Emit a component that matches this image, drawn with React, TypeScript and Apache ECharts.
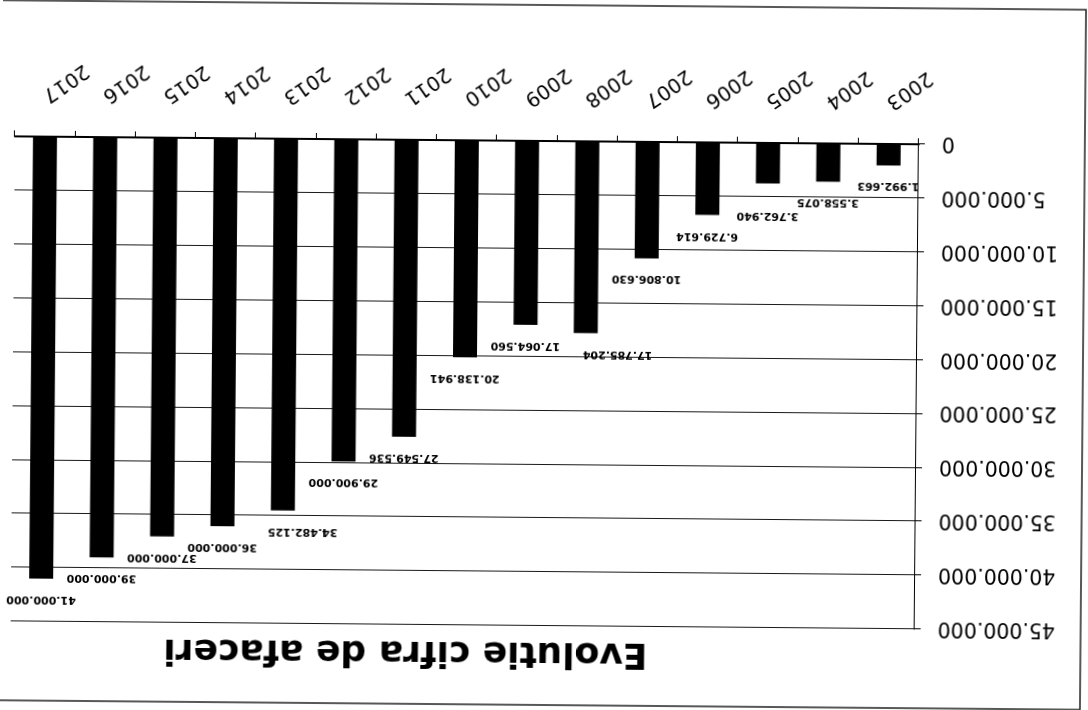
import React, { useEffect, useRef } from "react";
import * as echarts from "echarts";

const years = [
  "2003", "2004", "2005", "2006", "2007", "2008", "2009", "2010",
  "2011", "2012", "2013", "2014", "2015", "2016", "2017",
];

const revenue = [
  1992663, 3558075, 3762940, 6729614, 10806630, 17785204, 17064560, 20138941,
  27549536, 29900000, 34482125, 36000000, 37000000, 39000000, 41000000,
];

const axisMin = 0;
const axisMax = 45000000;
const axisStep = 5000000;

const titleText = "Evolutie cifra de afaceri";

// manual label nudges seen in the original (in px)
const labelNudges: Record<string, number[]> = {
  "2005": [0, -11],
  "2008": [-32, 0],
  "2013": [-20, 0],
};

function fmt(v: number): string {
  return String(Math.round(v)).replace(/\B(?=(\d{3})+(?!\d))/g, ".");
}

export default function App() {
  const ref = useRef<HTMLDivElement>(null);

  useEffect(() => {
    if (!ref.current) return;
    const chart = echarts.init(ref.current, null, { renderer: "svg" });
    chart.setOption({
      animation: false,
      backgroundColor: "#fff",
      title: {
        text: titleText,
        left: 675,
        top: 49,
        textAlign: "center",
        textVerticalAlign: "middle",
        textStyle: {
          fontFamily: "DejaVu Sans",
          fontWeight: "bold",
          fontSize: 36,
          color: "#000",
        },
      },
      grid: { left: 171, right: 13, top: 84, bottom: 141, containLabel: false },
      xAxis: {
        type: "category",
        data: years,
        axisLine: { lineStyle: { color: "#000", width: 2 } },
        axisTick: { show: true, length: 6, lineStyle: { color: "#000", width: 1 } },
        axisLabel: {
          interval: 0,
          rotate: 35,
          margin: 38,
          fontFamily: "DejaVu Sans",
          fontSize: 20,
          color: "#000",
        },
      },
      yAxis: {
        type: "value",
        min: axisMin,
        max: axisMax,
        interval: axisStep,
        axisLine: { show: true, lineStyle: { color: "#000", width: 1 } },
        axisTick: { show: true, length: 6, lineStyle: { color: "#000", width: 1 } },
        splitLine: { show: true, lineStyle: { color: "#1a1a1a", width: 1 } },
        axisLabel: {
          margin: 23,
          fontFamily: "DejaVu Sans",
          fontSize: 20.5,
          color: "#000",
          formatter: (v: number) => fmt(v),
        },
      },
      series: [
        {
          type: "bar",
          barWidth: 24,
          itemStyle: { color: "#000" },
          label: {
            show: true,
            position: "top",
            distance: 16,
            fontFamily: "DejaVu Sans",
            fontWeight: "bold",
            fontSize: 11,
            color: "#000",
            formatter: (p: any) => fmt(p.value),
          },
          data: revenue.map((v, i) => {
            const nudge = labelNudges[years[i]];
            return nudge ? { value: v, label: { offset: nudge } } : { value: v };
          }),
        },
      ],
      graphic: [
        {
          type: "rect",
          silent: true,
          z: -10,
          shape: { x: 5, y: 5, width: 1200, height: 700 },
          style: { fill: "none", stroke: "#222", lineWidth: 1.5 },
        },
      ],
    });
    return () => chart.dispose();
  }, []);

  return (
    <div
      style={{
        position: "fixed",
        left: 0,
        top: 0,
        width: 1088,
        height: 710,
        background: "#fff",
        transform: "rotate(180.5deg)",
        transformOrigin: "50% 50%",
      }}
    >
      <div ref={ref} style={{ width: 1088, height: 710 }} />
    </div>
  );
}
